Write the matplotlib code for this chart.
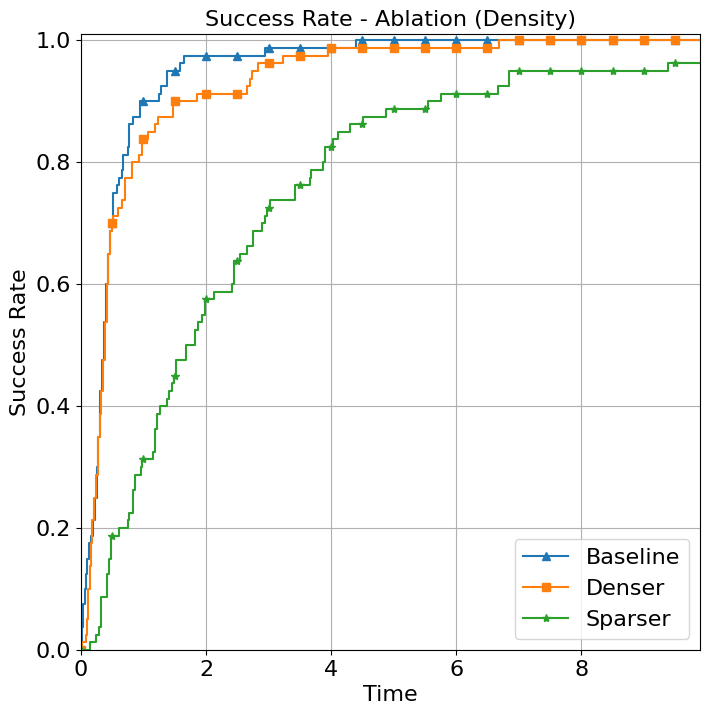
import matplotlib
matplotlib.use('Agg')
import matplotlib.pyplot as plt
import numpy as np

# Step events (time, success rate after that time)
base_t = [0.0, 0.02, 0.04, 0.06, 0.08, 0.10, 0.13, 0.16, 0.19, 0.22, 0.25, 0.28, 0.31,
          0.34, 0.37, 0.40, 0.43, 0.46, 0.49, 0.51, 0.57, 0.61, 0.65, 0.675, 0.745,
          0.77, 0.835, 0.94, 1.25, 1.28, 1.37, 1.58, 1.65, 2.94, 4.40]
base_v = [0.0, 0.0375, 0.075, 0.1, 0.125, 0.15, 0.175, 0.1875, 0.2125, 0.25, 0.3, 0.35, 0.425,
          0.475, 0.5375, 0.6, 0.65, 0.6875, 0.7, 0.75, 0.7625, 0.775, 0.7875, 0.8125, 0.825,
          0.8625, 0.875, 0.9, 0.9125, 0.925, 0.95, 0.9625, 0.975, 0.9875, 1.0]

dense_t = [0.0, 0.02, 0.08, 0.10, 0.12, 0.14, 0.16, 0.18, 0.21, 0.24, 0.27, 0.30, 0.32,
           0.35, 0.38, 0.41, 0.44, 0.47, 0.50, 0.51, 0.60, 0.66, 0.71, 0.81, 0.93, 0.98,
           1.075, 1.18, 1.235, 1.465, 1.85, 2.65, 2.70, 2.73, 2.83, 3.23, 3.95, 6.69]
dense_v = [0.0, 0.0125, 0.025, 0.05, 0.1, 0.1375, 0.175, 0.2125, 0.25, 0.2875, 0.35, 0.3875, 0.425,
           0.475, 0.5375, 0.6, 0.65, 0.6875, 0.7, 0.7125, 0.725, 0.7375, 0.775, 0.8, 0.8125, 0.8375,
           0.85, 0.8625, 0.875, 0.9, 0.9125, 0.925, 0.9375, 0.95, 0.9625, 0.975, 0.9875, 1.0]

sparse_t = [0.0, 0.14, 0.235, 0.29, 0.32, 0.42, 0.447, 0.479, 0.61, 0.745, 0.77, 0.825, 0.863,
            0.953, 0.98, 1.155, 1.18, 1.22, 1.27, 1.37, 1.41, 1.45, 1.485, 1.52, 1.68, 1.83,
            1.87, 1.94, 1.98, 2.13, 2.42, 2.45, 2.54, 2.65, 2.75, 2.89, 2.94, 2.97, 3.02,
            3.43, 3.66, 3.68, 3.87, 3.90, 4.03, 4.11, 4.30, 4.51, 4.88, 5.55, 5.76, 6.67,
            6.84, 9.38]
sparse_v = [0.0, 0.0125, 0.025, 0.0375, 0.0875, 0.125, 0.15, 0.1875, 0.2, 0.2125, 0.225, 0.2625, 0.2875,
            0.3, 0.3125, 0.325, 0.3625, 0.3875, 0.4, 0.4125, 0.425, 0.4375, 0.45, 0.475, 0.5, 0.525,
            0.5375, 0.55, 0.575, 0.5875, 0.6, 0.6375, 0.65, 0.6625, 0.6875, 0.7, 0.7125, 0.725, 0.7375,
            0.7625, 0.775, 0.7875, 0.8, 0.825, 0.8375, 0.85, 0.8625, 0.875, 0.8875, 0.9, 0.9125, 0.925,
            0.95, 0.9625]

t_end = 9.9
mark_step = 0.5

series = [
    ("Baseline", base_t, base_v, '^', '#1f77b4'),
    ("Denser", dense_t, dense_v, 's', '#ff7f0e'),
    ("Sparser", sparse_t, sparse_v, '*', '#2ca02c'),
]

plt.rcParams['font.size'] = 16
fig, ax = plt.subplots(figsize=(7.1, 7.15), dpi=100)

mark_t = np.arange(0, t_end, mark_step)
for name, t, v, mk, col in series:
    t = np.array(t)
    v = np.array(v)
    # merge event times with marker times so markers sit on the step curve
    all_t = np.unique(np.concatenate([t, mark_t, [t_end]]))
    idx = np.searchsorted(t, all_t, side='right') - 1
    all_v = v[idx]
    marks = [int(np.where(np.isclose(all_t, m))[0][0]) for m in mark_t]
    ax.plot(all_t, all_v, drawstyle='steps-post', marker=mk, markevery=marks,
            color=col, label=name)

ax.set_xlim(0, t_end)
ax.set_ylim(0, 1.01)
ax.grid(True)
ax.set_xlabel("Time")
ax.set_ylabel("Success Rate")
ax.set_title("Success Rate - Ablation (Density)", fontsize=16)
ax.legend(loc='lower right')

fig.subplots_adjust(left=0.114, right=0.986, bottom=0.091, top=0.952)
fig.savefig('out.png')
